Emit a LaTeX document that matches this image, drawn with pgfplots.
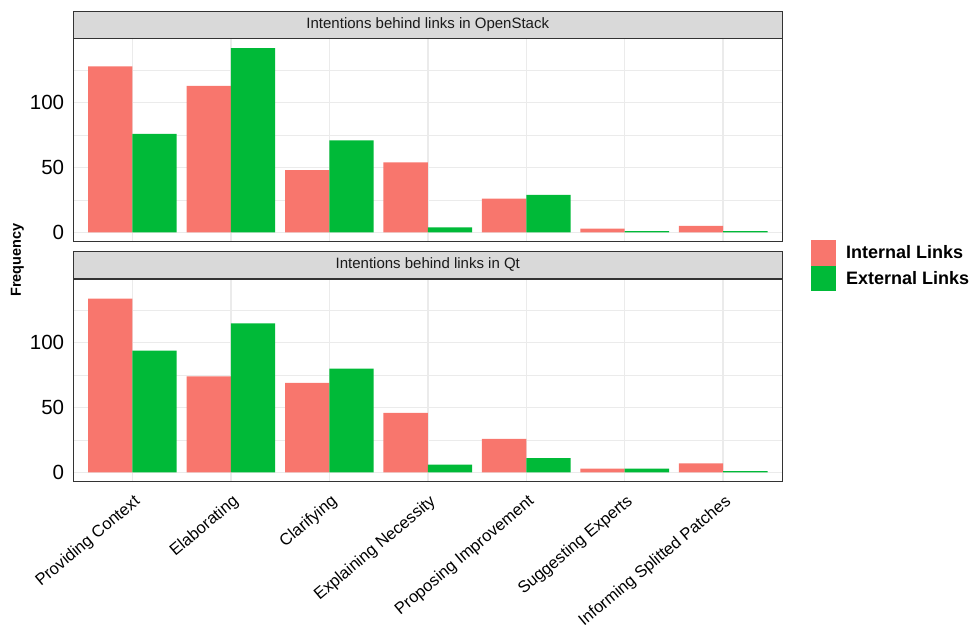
\documentclass[border=0pt]{standalone}
\usepackage{pgfplots}
\pgfplotsset{compat=1.18}
\usepackage{fontspec}
\setmainfont{Liberation Sans}
\definecolor{intc}{HTML}{F8766D}
\definecolor{extc}{HTML}{00BA38}
\definecolor{stripc}{HTML}{D9D9D9}
\definecolor{borderc}{HTML}{333333}
\definecolor{gridc}{HTML}{EBEBEB}
\definecolor{striptext}{HTML}{1A1A1A}
\pgfplotsset{
  panel/.style={
    scale only axis,
    width=709pt, height=202.7pt,
    xmin=0.4, xmax=7.6,
    ymin=-7.1, ymax=149.1,
    xtick={1,2,3,4,5,6,7},
    ytick={0,50,100,150},
    minor ytick={25,75,125},
    grid=both,
    major grid style={draw=gridc, line width=1.5pt},
    minor grid style={draw=gridc, line width=0.8pt},
    major tick length=0pt, minor tick length=0pt,
    tick style={draw=none},
    axis line style={draw=borderc, line width=1pt},
    /pgf/number format/assume math mode=true,
    yticklabel style={font=\fontsize{20.5}{20.5}\selectfont, text=black, inner xsep=0pt, xshift=-9pt},
    ybar, bar width=0.45,
    every axis title/.style={at={(0.5,1)}, anchor=south, fill=stripc, draw=borderc,
      line width=1pt, minimum width=709pt, minimum height=27.3pt, inner sep=0pt,
      text=striptext, font=\fontsize{15}{15}\selectfont},
  },
}
\begin{document}
\begin{tikzpicture}
\useasboundingbox (0pt,0pt) rectangle (972pt,625pt);
\begin{axis}[panel,
  at={(73.3pt,383.3pt)}, anchor=south west,
  title={Intentions behind links in OpenStack},
  xticklabels={},
  legend style={at={(1.0405,0.0084)}, anchor=north west, draw=none, fill=none,
    inner sep=0pt, row sep=0pt, font=\fontsize{18}{18}\selectfont\bfseries,
    nodes={inner sep=0pt}},
  legend cell align=left,
  /tikz/every odd column/.append style={column sep=10pt},
  legend image code/.code={\fill[#1] (0pt,-12.7pt) rectangle (25pt,12.7pt);},
]
\addplot[fill=intc, draw=none, bar shift=-0.225] coordinates {(1,128) (2,113) (3,48) (4,54) (5,26) (6,3) (7,5)};
\addplot[fill=extc, draw=none, bar shift=0.225] coordinates {(1,76) (2,142) (3,71) (4,4) (5,29) (6,1) (7,1)};
\legend{Internal Links, External Links}
\end{axis}
\begin{axis}[panel,
  at={(73.3pt,143.3pt)}, anchor=south west,
  title={Intentions behind links in Qt},
  xticklabels={Providing Context, Elaborating, Clarifying, Explaining Necessity, Proposing Improvement, Suggesting Experts, Informing Splitted Patches},
  xticklabel style={font=\fontsize{16.5}{16.5}\selectfont, text=black, rotate=40, anchor=north east, inner sep=0pt, yshift=-9.5pt, xshift=-7pt},
]
\addplot[fill=intc, draw=none, bar shift=-0.225] coordinates {(1,134) (2,74) (3,69) (4,46) (5,26) (6,3) (7,7)};
\addplot[fill=extc, draw=none, bar shift=0.225] coordinates {(1,94) (2,115) (3,80) (4,6) (5,11) (6,3) (7,1)};
\end{axis}
\node[rotate=90, font=\fontsize{14.5}{14.5}\selectfont\bfseries] at (17.5pt,365pt) {Frequency};
\end{tikzpicture}
\end{document}
